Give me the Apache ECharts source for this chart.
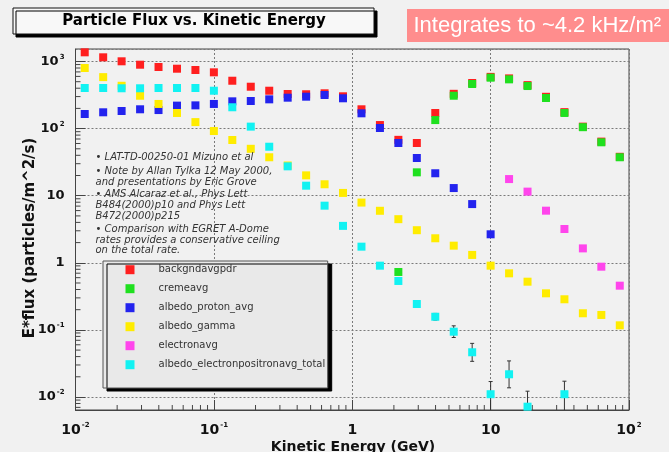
<!DOCTYPE html>
<html>
<head>
<meta charset="utf-8">
<script src="https://cdn.jsdelivr.net/npm/echarts@6/dist/echarts.min.js"></script>
<style>
  html, body { margin: 0; padding: 0; background: #f1f1f1; }
  #chart { width: 669px; height: 452px; }
</style>
</head>
<body>
<div id="chart"></div>
<script>
// Bin centres of kinetic energy (GeV), 30 log bins from 10 MeV to 100 GeV
const energy = [0.01166, 0.01585, 0.02154, 0.02929, 0.03981, 0.05412, 0.07356, 0.1, 0.1359, 0.1848,
  0.2512, 0.3415, 0.4642, 0.6310, 0.8577, 1.166, 1.585, 2.154, 2.929, 3.981,
  5.412, 7.356, 10, 13.59, 18.48, 25.12, 34.15, 46.42, 63.10, 85.77];

// E*flux (particles/m^2/s) per component
const backgndavgpdr = [1371, 1155, 1007, 896, 828, 781, 747, 690, 517, 421,
  367, 328, 325, 336, 303, 194, 113, 68, 61, 171,
  330, 478, 590, 560, 445, 298, 176, 107, 64, 38];
const cremeavg = [null, null, null, null, null, null, null, null, null, null,
  null, null, null, null, null, null, null, 0.73, 22.3, 134,
  309, 462, 574, 542, 431, 286, 171, 105, 62.5, 37.4];
const albedo_proton_avg = [165, 175, 183, 194, 189, 220, 222, 233, 255, 258,
  273, 289, 299, 317, 283, 169, 102, 61, 36.5, 21.6,
  13.0, 7.5, 2.66, null, null, null, null, null, null, null];
const albedo_gamma = [800, 585, 435, 309, 233, 171, 125, 92, 67.6, 50,
  37.4, 28.2, 20.1, 14.8, 11.0, 7.9, 5.96, 4.47, 3.06, 2.32,
  1.80, 1.31, 0.906, 0.697, 0.523, 0.351, 0.286, 0.177, 0.167, 0.117];
const electronavg = [null, null, null, null, null, null, null, null, null, null,
  null, null, null, null, null, null, null, null, null, null,
  null, null, null, 17.7, 11.5, 5.98, 3.19, 1.64, 0.875, 0.456];
const albedo_electronpositronavg_total = [403, 403, 399, 399, 403, 403, 403, 367, 208, 107,
  53.7, 27.4, 14.1, 7.1, 3.55, 1.74, 0.906, 0.536, 0.243, 0.157,
  0.094, 0.0464, 0.011, 0.0218, 0.00717, null, 0.011, null, null, null];
// statistical error range of the e+e- total
const totalErrLow = [null, null, null, null, null, null, null, null, null, null,
  null, null, null, null, null, null, null, null, 0.225, 0.140,
  0.077, 0.034, 0.0045, 0.0137, 0.003, null, 0.0045, null, null, null];
const totalErrHigh = [null, null, null, null, null, null, null, null, null, null,
  null, null, null, null, null, null, null, null, 0.262, 0.176,
  0.115, 0.063, 0.017, 0.0345, 0.0122, null, 0.0172, null, null, null];

// Axis ranges and decades that carry 2..9 minor ticks
const xRange = [0.01, 100];
const yRange = [0.0064, 1536];
const xDecades = [0.01, 0.1, 1, 10];
const yDecades = [0.001, 0.01, 0.1, 1, 10, 100, 1000];
const minorSteps = [2, 3, 4, 5, 6, 7, 8, 9];

const seriesNames = ['backgndavgpdr', 'cremeavg', 'albedo_proton_avg', 'albedo_gamma', 'electronavg', 'albedo_electronpositronavg_total'];
const seriesValues = [backgndavgpdr, cremeavg, albedo_proton_avg, albedo_gamma, electronavg, albedo_electronpositronavg_total];
const seriesColors = ['#ff1f1f', '#1fe01f', '#2323ee', '#ffec00', '#ff45ec', '#12f2f2'];

const notes = [
  '\u2022 LAT-TD-00250-01 Mizuno et al',
  '\u2022 Note by Allan Tylka 12 May 2000,',
  'and presentations by Eric Grove',
  '\u2022 AMS Alcaraz et al., Phys Lett',
  'B484(2000)p10 and Phys Lett',
  'B472(2000)p215',
  '\u2022 Comparison with EGRET A-Dome',
  'rates provides a conservative ceiling',
  'on the total rate.'
];
const noteY = [157.5, 171, 182, 194.5, 205.5, 216, 229, 240, 250.5];

function pairs(vals) {
  const out = [];
  vals.forEach((v, i) => { if (v != null) out.push([energy[i], v]); });
  return out;
}
function errRows() {
  const out = [];
  energy.forEach((e, i) => {
    if (totalErrLow[i] != null) out.push([e, totalErrLow[i], totalErrHigh[i]]);
  });
  return out;
}
function minorValues(decades, range) {
  const out = [];
  decades.forEach(d => minorSteps.forEach(m => {
    const v = +(d * m).toPrecision(3);
    if (v > range[0] && v < range[1]) out.push(v);
  }));
  return out;
}

function powLabel(value) {
  const e = Math.round(Math.log10(value));
  if (e === 0) return '{b|1}';
  if (e === 1) return '{b|10}';
  return '{b|10}{s|' + e + '}';
}
function labelRich(size) {
  return {
    b: { fontFamily: 'DejaVu Sans', fontWeight: 'bold', fontSize: size, color: '#111', lineHeight: size + 3 },
    s: { fontFamily: 'DejaVu Sans', fontWeight: 'bold', fontSize: 7, color: '#111', lineHeight: 8, verticalAlign: 'top', padding: [0, 0, 0, 1] }
  };
}

const GRID = { left: 75.5, top: 49, width: 553.5, height: 361 };
const tickStyle = { stroke: '#444', lineWidth: 1 };

const scatterSeries = seriesNames.map((name, k) => ({
  name: name,
  type: 'scatter',
  symbol: 'rect',
  symbolSize: 8,
  itemStyle: { color: seriesColors[k], opacity: 1 },
  emphasis: { disabled: true },
  z: 3 + k,
  data: pairs(seriesValues[k])
}));

const errorSeries = {
  name: 'total_errors',
  type: 'custom',
  clip: true,
  silent: true,
  z: 7,
  encode: { x: 0, y: [1, 2] },
  data: errRows(),
  renderItem: function (params, api) {
    const x = api.value(0);
    const lo = api.coord([x, api.value(1)]);
    const hi = api.coord([x, api.value(2)]);
    const st = { stroke: '#333', lineWidth: 1 };
    return {
      type: 'group',
      children: [
        { type: 'line', shape: { x1: lo[0], y1: lo[1], x2: hi[0], y2: hi[1] }, style: st },
        { type: 'line', shape: { x1: lo[0] - 2, y1: lo[1], x2: lo[0] + 2, y2: lo[1] }, style: st },
        { type: 'line', shape: { x1: hi[0] - 2, y1: hi[1], x2: hi[0] + 2, y2: hi[1] }, style: st }
      ]
    };
  }
};

// Logarithmic minor ticks, drawn inward from the bottom and left frame edges
const xMinorTicks = {
  name: 'x_minor_ticks', type: 'custom', silent: true, z: 2,
  encode: { x: 0, y: 1 },
  data: minorValues(xDecades, xRange).map(v => [v, 1]),
  renderItem: function (params, api) {
    const cs = params.coordSys;
    const p = api.coord([api.value(0), 1]);
    const yb = cs.y + cs.height;
    return { type: 'line', shape: { x1: p[0], y1: yb, x2: p[0], y2: yb - 5 }, style: tickStyle };
  }
};
const yMinorTicks = {
  name: 'y_minor_ticks', type: 'custom', silent: true, z: 2,
  encode: { x: 0, y: 1 },
  data: minorValues(yDecades, yRange).map(v => [1, v]),
  renderItem: function (params, api) {
    const cs = params.coordSys;
    const p = api.coord([1, api.value(1)]);
    return { type: 'line', shape: { x1: cs.x, y1: p[1], x2: cs.x + 5, y2: p[1] }, style: tickStyle };
  }
};

const gridLine = { show: true, lineStyle: { color: '#7a7a7a', type: [2, 2], width: 1 } };

const graphics = [
  { type: 'rect', z: 10, shape: { x: 13, y: 8, width: 361, height: 26 },
    style: { fill: '#f8f8f8', stroke: '#111', lineWidth: 1, shadowColor: '#000', shadowBlur: 0, shadowOffsetX: 3, shadowOffsetY: 3 } },
  { type: 'text', z: 11, x: 194, y: 21.5,
    style: { text: 'Particle Flux vs. Kinetic Energy', font: 'bold 15px "DejaVu Sans"', fill: '#000', textAlign: 'center', textVerticalAlign: 'middle' } },
  { type: 'rect', z: 10, shape: { x: 407, y: 9, width: 262, height: 33 }, style: { fill: '#ff8d8d' } },
  { type: 'text', z: 11, x: 413.5, y: 26,
    style: { text: 'Integrates to ~4.2 kHz/m\u00b2', font: '22px "Liberation Sans"', fill: '#ffffff', textAlign: 'left', textVerticalAlign: 'middle' } },
  { type: 'rect', z: 10, shape: { x: 103, y: 261, width: 224.7, height: 127 },
    style: { fill: '#e9e9e9', stroke: '#555', lineWidth: 1, shadowColor: '#000', shadowBlur: 0, shadowOffsetX: 4, shadowOffsetY: 3 } },
  { type: 'text', z: 11, x: 30, y: 238, rotation: Math.PI / 2,
    style: { text: 'E*flux (particles/m^2/s)', font: 'bold 15px "DejaVu Sans"', fill: '#111', textAlign: 'center', textVerticalAlign: 'middle' } },
  { type: 'text', z: 11, x: 353, y: 447,
    style: { text: 'Kinetic Energy (GeV)', font: 'bold 14px "DejaVu Sans"', fill: '#111', textAlign: 'center', textVerticalAlign: 'middle' } }
].concat(notes.map((t, i) => ({
  type: 'text', z: 9, x: 95.5, y: noteY[i],
  style: { text: t, font: 'italic 10px "DejaVu Sans"', fill: '#333', textAlign: 'left', textVerticalAlign: 'middle' }
})));

const chart = echarts.init(document.getElementById('chart'), null, { renderer: 'canvas' });
chart.setOption({
  animation: false,
  backgroundColor: '#f1f1f1',
  grid: Object.assign({ show: true, borderColor: '#444', borderWidth: 1, backgroundColor: 'transparent', containLabel: false }, GRID),
  xAxis: {
    type: 'log', logBase: 10, min: xRange[0], max: xRange[1],
    axisLine: { show: true, lineStyle: { color: '#444' } },
    axisTick: { show: true, inside: true, length: 10, lineStyle: { color: '#444' } },
    minorTick: { show: false },
    splitLine: gridLine,
    minorSplitLine: { show: false },
    axisLabel: { margin: 12, formatter: powLabel, rich: labelRich(14) }
  },
  yAxis: {
    type: 'log', logBase: 10, min: yRange[0], max: yRange[1],
    axisLine: { show: true, lineStyle: { color: '#444' } },
    axisTick: { show: true, inside: true, length: 10, lineStyle: { color: '#444' } },
    minorTick: { show: false },
    splitLine: gridLine,
    minorSplitLine: { show: false },
    axisLabel: { margin: 11, showMinLabel: false, showMaxLabel: false, formatter: powLabel, rich: labelRich(13) }
  },
  legend: {
    show: true, z: 20,
    data: seriesNames,
    orient: 'vertical',
    left: 125.5, top: 264.7,
    padding: 0,
    itemWidth: 9, itemHeight: 9, itemGap: 9,
    icon: 'rect',
    selectedMode: false,
    formatter: name => '{t|' + name + '}',
    textStyle: {
      rich: { t: { fontFamily: 'DejaVu Sans', fontSize: 10, color: '#333', lineHeight: 12, padding: [0, 0, 0, 19] } }
    }
  },
  tooltip: { show: false },
  graphic: { elements: graphics },
  series: [xMinorTicks, yMinorTicks, errorSeries].concat(scatterSeries)
});
</script>
</body>
</html>
